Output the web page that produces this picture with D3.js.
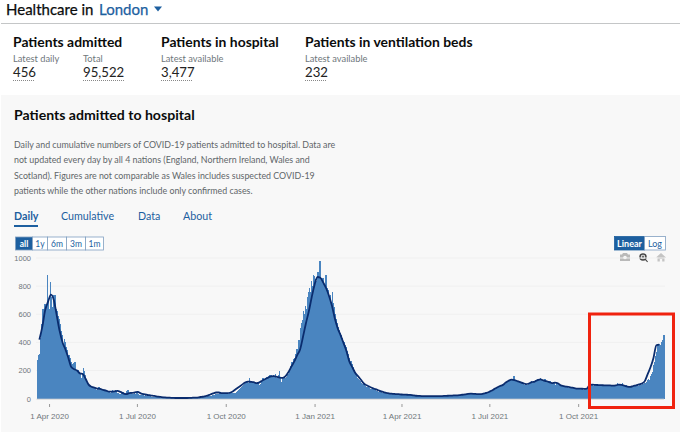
<!DOCTYPE html>
<html>
<head>
<meta charset="utf-8">
<script src="https://cdn.jsdelivr.net/npm/d3@7"></script>
<style>
html,body{margin:0;padding:0;background:#fff;}
svg{display:block;font-family:"Lato",sans-serif;}
</style>
</head>
<body>
<svg id="c" width="680" height="432"></svg>
<script>
const startDate = "2020-03-19";
// daily admissions, one row per month
const dailyAdmissions = [
250,275,310,320,430,530,635,625,670,650,660,880,700,
640,830,720,650,740,740,735,640,625,590,570,530,480,450,380,425,400,370,345,305,310,290,260,250,130,255,260,215,200,195,
205,190,175,150,185,215,200,170,130,110,95,90,85,80,75,70,78,72,65,50,75,80,60,70,55,65,42,60,55,58,50,
50,52,40,55,60,45,58,60,52,40,38,30,35,32,45,48,35,30,42,55,60,25,40,50,42,30,35,45,32,50,
55,30,28,25,28,26,24,22,24,20,22,18,18,16,14,15,13,12,12,11,10,9,9,8,8,7,7,6,6,5,5,
5,5,4,5,4,4,5,6,4,5,5,8,5,4,4,5,4,4,3,4,5,4,5,6,5,6,7,8,7,8,9,
9,10,10,11,12,11,13,14,12,14,15,16,18,17,20,22,24,26,28,30,32,34,36,38,40,38,36,42,44,40,
33,38,35,42,44,40,38,42,36,40,42,48,55,62,70,78,85,92,100,105,112,118,118,115,148,122,118,118,122,115,120,
110,118,112,100,108,120,128,145,112,135,150,155,148,160,170,135,165,160,168,155,172,150,145,165,200,150,120,145,150,148,
150,155,165,175,190,205,230,260,245,285,290,320,350,340,420,375,500,540,560,620,600,660,640,720,760,790,760,840,800,880,870,
850,840,870,900,860,980,860,850,860,800,740,880,790,780,770,720,740,690,760,680,650,600,570,540,510,490,470,450,430,410,400,
380,370,340,320,290,245,270,250,225,205,190,175,165,150,140,130,125,115,105,108,95,90,85,80,85,75,70,72,
70,62,66,60,55,58,50,48,52,46,44,42,45,40,38,36,40,35,34,38,32,33,34,30,35,32,28,30,27,32,29,
30,28,29,27,26,30,24,27,28,25,26,22,24,23,21,20,22,19,21,20,19,18,20,19,17,18,20,19,18,17,
19,18,20,17,19,18,20,19,18,17,20,19,18,21,19,20,18,21,22,20,23,21,24,22,23,22,25,23,24,26,25,
27,25,29,30,28,32,35,33,38,36,38,34,36,33,35,32,33,31,34,30,32,35,38,34,40,38,45,42,48,50,
52,48,55,62,58,68,72,78,75,85,82,90,95,102,100,110,108,122,125,130,128,132,135,130,138,160,132,128,122,115,120,
112,118,110,105,112,95,108,100,95,110,115,118,125,112,120,128,132,125,140,135,130,150,125,132,128,122,138,125,118,120,115,
125,112,118,105,120,110,100,118,112,105,100,95,90,88,92,85,88,80,84,78,75,82,72,74,78,70,75,68,72,70,
72,65,70,68,74,60,72,68,66,74,72,70,62,95,102,88,100,96,105,90,98,95,92,100,94,98,90,96,93,88,97,
95,92,98,94,90,96,92,90,95,112,98,100,96,105,110,92,98,95,100,90,86,82,88,80,85,82,78,90,88,92,
95,92,100,102,98,108,105,112,115,122,130,140,135,160,175,190,215,240,260,300,330,385,390,385,290,400,420,456
];
// rolling average, one reading every 3 days from 22 Mar 2020
const avgFirstOffset = 3, avgStep = 3;
const rollingAverage = [
420,510,630,690,740,700,590,480,400,350,290,225,210,200,180,175,140,100,85,78,
72,70,62,58,50,50,52,55,48,38,32,40,42,45,48,38,32,28,25,22,
18,14,12,10,8,7,6,5,5,5,5,5,6,7,8,10,13,16,22,30,
38,44,44,40,40,40,44,55,70,85,100,115,122,120,117,110,116,130,140,150,
158,160,155,150,148,160,190,228,265,310,350,440,535,620,720,810,865,860,825,785,
730,660,570,500,450,395,340,265,225,185,160,135,108,95,85,75,68,60,52,45,
40,36,35,33,32,30,29,28,27,24,21,20,19,19,19,19,19,19,19,19,
20,21,22,23,24,25,28,30,34,36,35,33,32,34,40,46,56,68,80,90,
98,115,128,135,132,125,118,110,104,108,118,122,132,137,130,125,118,110,114,110,
95,90,85,82,78,74,72,71,70,72,98,100,98,97,96,95,94,94,93,95,
100,98,92,86,84,90,95,102,108,125,175,225,290,380,385
];
const yTicks = [0,200,400,600,800,1000];
const xTickDates = ["2020-04-01","2020-07-01","2020-10-01","2021-01-01","2021-04-01","2021-07-01","2021-10-01"];
const rangeButtons = ["all","1y","6m","3m","1m"];
const tabs = ["Daily","Cumulative","Data","About"];
const bodyLines = [
 "Daily and cumulative numbers of COVID-19 patients admitted to hospital. Data are",
 "not updated every day by all 4 nations (England, Northern Ireland, Wales and",
 "Scotland). Figures are not comparable as Wales includes suspected COVID-19",
 "patients while the other nations include only confirmed cases."
];
const summaryHeads = ["Patients admitted","Patients in hospital","Patients in ventilation beds"];
const summaryLabels = ["Latest daily","Total","Latest available","Latest available"];
const summaryValues = ["456","95,522","3,477","232"];

const INK="#0b0c0c", BLUE="#1d5f9f", GREY="#6f777b", BAR="#4a85c0", NAVY="#0a2c6e";
const svg=d3.select("#c");
const T=(x,y,s,size,fill,weight,anchor)=>svg.append("text").attr("x",x).attr("y",y).text(s)
  .attr("font-size",size).attr("fill",fill||INK).attr("font-weight",weight||400).attr("text-anchor",anchor||"start");

// header
T(6,15,"Healthcare in",15,INK,400).attr("stroke",INK).attr("stroke-width",.25);
T(99,15,"London",15,BLUE,400).attr("stroke",BLUE).attr("stroke-width",.25);
svg.append("path").attr("d","M154 6.5h8l-4 5z").attr("fill",BLUE);
svg.append("rect").attr("x",1).attr("y",23).attr("width",679).attr("height",1).attr("fill","#c4c6c7");

// summary
const headX=[13,161,305], labelX=[13,83,161,305], valW=[22,41,32,22];
summaryHeads.forEach((s,i)=>T(headX[i],46.5,s,13.9,INK,700));
summaryLabels.forEach((s,i)=>T(labelX[i],62,s,9.3,GREY));
summaryValues.forEach((s,i)=>{
  T(labelX[i],77,s,13.2,"#222");
  svg.append("line").attr("x1",labelX[i]).attr("x2",labelX[i]+valW[i]).attr("y1",80.5).attr("y2",80.5)
    .attr("stroke","#888").attr("stroke-dasharray","1 1");
});

// panel
svg.append("rect").attr("x",1).attr("y",95).attr("width",679).attr("height",337).attr("fill","#f8f8f8");
T(14,120,"Patients admitted to hospital",14.1,INK,700);
bodyLines.forEach((s,i)=>T(14,147.5+i*15.6,s,8.85,"#5f6669"));

// tabs
const tabX=[14,61,138,183];
tabs.forEach((s,i)=>T(tabX[i],220,s,10.7,BLUE,i===0?700:400));
svg.append("rect").attr("x",14).attr("y",225).attr("width",24).attr("height",2).attr("fill",BLUE);

// range buttons
const btnEdges=[15,32,47,66,85,103];
rangeButtons.forEach((s,i)=>{
  svg.append("rect").attr("x",btnEdges[i]+.5).attr("y",237).attr("width",btnEdges[i+1]-btnEdges[i]).attr("height",13)
    .attr("fill",i===0?BLUE:"#fff").attr("stroke","#7f9fc0").attr("stroke-width",.8);
  T((btnEdges[i]+btnEdges[i+1])/2+.5,246.5,s,8.5,i===0?"#fff":BLUE,i===0?700:400,"middle");
});
// linear / log buttons
[[614,644,"Linear",true],[644,665,"Log",false]].forEach(([a,b,s,on])=>{
  svg.append("rect").attr("x",a+.5).attr("y",236.5).attr("width",b-a).attr("height",13.5)
    .attr("fill",on?BLUE:"#fff").attr("stroke",on?BLUE:"#7f9fc0").attr("stroke-width",.8);
  T((a+b)/2+.5,246.5,s,9,on?"#fff":BLUE,on?700:400,"middle");
});
// toolbar icons
const cam=svg.append("g").attr("fill","#b9b9b9");
cam.append("path").attr("d","M620 254.5h2l1-1.5h4l1 1.5h2v6.5h-10z");
cam.append("circle").attr("cx",625).attr("cy",257.5).attr("r",1.8).attr("fill","#f8f8f8");
svg.append("circle").attr("cx",643).attr("cy",257).attr("r",3).attr("fill","none").attr("stroke","#444").attr("stroke-width",1.5);
svg.append("path").attr("d","M645 259.2l2.6 2.6M641.6 257h2.8M643 255.6v2.8").attr("stroke","#444").attr("stroke-width",1.1).attr("fill","none");
svg.append("path").attr("d","M661 253l5 4.5h-1.5v4h-2.3v-2.5h-2.4v2.5h-2.3v-4H656z").attr("fill","#c4c4c4");

// chart
const parse=d3.utcParse("%Y-%m-%d");
const d0=parse(startDate);
const day=(n)=>d3.utcDay.offset(d0,n);
const bars=dailyAdmissions.map((v,i)=>({date:day(i),v}));
const avg=rollingAverage.map((v,i)=>({date:day(avgFirstOffset+i*avgStep),v}));
const x=d3.scaleUtc().domain([d0,day(dailyAdmissions.length)]).range([36.5,664.1]);
const y=d3.scaleLinear().domain([0,1000]).range([398.7,258]);

svg.append("g").selectAll("line").data(yTicks.slice(1)).join("line")
  .attr("x1",36).attr("x2",665).attr("y1",d=>y(d)+.0).attr("y2",d=>y(d))
  .attr("stroke","#f0f0f0").attr("stroke-width",1);

const yAxis=svg.append("g").attr("transform","translate(36,0)")
  .call(d3.axisLeft(y).tickValues(yTicks).tickSize(0).tickPadding(5).tickFormat(d3.format("d")));
yAxis.select(".domain").remove();
yAxis.selectAll("text").attr("font-size",7.5).attr("fill",GREY).attr("font-family","inherit");

svg.append("g").attr("shape-rendering","crispEdges").selectAll("rect").data(bars).join("rect")
  .attr("x",d=>x(d.date))
  .attr("width",d=>x(d3.utcDay.offset(d.date,1))-x(d.date)+.4)
  .attr("y",d=>y(d.v))
  .attr("height",d=>y(0)-y(d.v))
  .attr("fill",BAR);

svg.append("line").attr("x1",36.5).attr("x2",664).attr("y1",399.2).attr("y2",399.2).attr("stroke","#d5d5d5");

svg.append("path").datum(avg)
  .attr("d",d3.line().x(d=>x(d.date)).y(d=>y(d.v)).curve(d3.curveMonotoneX))
  .attr("fill","none").attr("stroke",NAVY).attr("stroke-width",1.8).attr("stroke-linejoin","round");

const xAxis=svg.append("g").attr("transform","translate(0,404)")
  .call(d3.axisBottom(x).tickValues(xTickDates.map(parse)).tickSize(3).tickPadding(6).tickFormat(d3.utcFormat("%-d %b %Y")));
xAxis.select(".domain").remove();
xAxis.selectAll("line").attr("stroke","#999");
xAxis.selectAll("text").attr("font-size",8).attr("fill",GREY).attr("font-family","inherit");

// red annotation box
svg.append("rect").attr("x",589.5).attr("y",314).attr("width",84).attr("height",93.5)
  .attr("fill","none").attr("stroke","#f0230f").attr("stroke-width",3);
</script>
</body>
</html>
